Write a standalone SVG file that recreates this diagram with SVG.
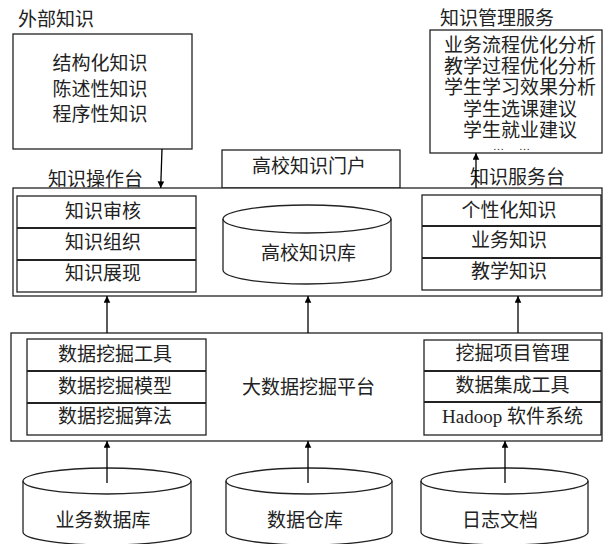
<svg xmlns="http://www.w3.org/2000/svg" width="603" height="544" viewBox="0 0 603 544">
<defs>
<style>
.b{fill:#fff;stroke:#222;stroke-width:1.3}
.n{fill:none;stroke:#222;stroke-width:1.3}
.s{fill:none;stroke:#222;stroke-width:2}
text{font-family:"Liberation Serif","Noto Sans CJK SC",serif;font-size:19px;fill:#222;dominant-baseline:central}
.m{text-anchor:middle}
.c{stroke:#000;stroke-width:1.3;fill:none;marker-end:url(#ah)}
</style>
<marker id="ah" viewBox="0 0 10 15" refX="10" refY="5" markerWidth="15" markerHeight="10" markerUnits="userSpaceOnUse" orient="auto">
<path d="M0,0 L10,5 L0,10 Z" fill="#000"/>
</marker>
</defs>
<rect width="603" height="544" fill="#fff"/>

<g id="external">
<text x="18" y="19.5">外部知识</text>
<rect class="b" x="13" y="34" width="179" height="115"/>
<text class="m" x="100" y="63.5">结构化知识</text>
<text class="m" x="100" y="89.5">陈述性知识</text>
<text class="m" x="100" y="114.5">程序性知识</text>
</g>

<g id="mgmt">
<text x="440" y="18.5">知识管理服务</text>
<rect class="b" x="430" y="30" width="172" height="123"/>
<text class="m" x="520" y="45.5">业务流程优化分析</text>
<text class="m" x="520" y="66">教学过程优化分析</text>
<text class="m" x="520" y="87.5">学生学习效果分析</text>
<text class="m" x="520" y="109.5">学生选课建议</text>
<text class="m" x="520" y="130">学生就业建议</text>
<text x="493" y="145.5" textLength="37" lengthAdjust="spacing" style="font-size:11px">……</text>
</g>

<g id="portal">
<rect class="b" x="222" y="150" width="178" height="38"/>
<text class="m" x="309" y="166">高校知识门户</text>
</g>

<g id="upper">
<rect class="b" x="13" y="188" width="589" height="108"/>
<text x="48" y="179.5">知识操作台</text>
<text x="470" y="177.5">知识服务台</text>
</g>

<g id="ops">
<rect class="b" x="17" y="196" width="179" height="96"/>
<line class="s" x1="17" y1="228" x2="196" y2="228"/>
<line class="s" x1="17" y1="260" x2="196" y2="260"/>
<text class="m" x="103" y="211.5">知识审核</text>
<text class="m" x="103" y="242.5">知识组织</text>
<text class="m" x="103" y="273.5">知识展现</text>
</g>

<g id="kb">
<path class="b" d="M223,219 A84,14 0 0 1 391,219 L391,270 A84,14 0 0 1 223,270 Z"/>
<path class="n" d="M223,219 A84,14 0 0 0 391,219"/>
<text class="m" x="308.5" y="253">高校知识库</text>
</g>

<g id="svc">
<rect class="b" x="422" y="195" width="179" height="95"/>
<line class="s" x1="422" y1="226" x2="601" y2="226"/>
<line class="s" x1="422" y1="258" x2="601" y2="258"/>
<text class="m" x="509" y="210">个性化知识</text>
<text class="m" x="509" y="240.5">业务知识</text>
<text class="m" x="509" y="271.5">教学知识</text>
</g>

<g id="platform">
<rect class="b" x="11" y="333" width="591" height="108"/>
<text class="m" x="308.5" y="387.5">大数据挖掘平台</text>
</g>

<g id="mining">
<rect class="b" x="27" y="339" width="179" height="96"/>
<line class="s" x1="27" y1="371" x2="206" y2="371"/>
<line class="s" x1="27" y1="403" x2="206" y2="403"/>
<text class="m" x="115" y="354.5">数据挖掘工具</text>
<text class="m" x="115" y="386">数据挖掘模型</text>
<text class="m" x="115" y="416.5">数据挖掘算法</text>
</g>

<g id="tools">
<rect class="b" x="424" y="340" width="177" height="95"/>
<line class="s" x1="424" y1="371" x2="601" y2="371"/>
<line class="s" x1="424" y1="402" x2="601" y2="402"/>
<text class="m" x="512.5" y="353.5">挖掘项目管理</text>
<text class="m" x="512.5" y="385">数据集成工具</text>
<text class="m" x="512.5" y="416">Hadoop 软件系统</text>
</g>

<g id="db1">
<path class="b" d="M23,481 A84,13 0 0 1 191,481 L191,532 A84,13 0 0 1 23,532 Z"/>
<path class="n" d="M23,481 A84,13 0 0 0 191,481"/>
<text class="m" x="103" y="520">业务数据库</text>
</g>
<g id="db2">
<path class="b" d="M226,481 A83,13 0 0 1 392,481 L392,532 A83,13 0 0 1 226,532 Z"/>
<path class="n" d="M226,481 A83,13 0 0 0 392,481"/>
<text class="m" x="305" y="520">数据仓库</text>
</g>
<g id="db3">
<path class="b" d="M421,481 A83.5,13 0 0 1 588,481 L588,532 A83.5,13 0 0 1 421,532 Z"/>
<path class="n" d="M421,481 A83.5,13 0 0 0 588,481"/>
<text class="m" x="500" y="520">日志文档</text>
</g>

<g id="connectors">
<line class="c" x1="162" y1="149" x2="160.7" y2="188"/>
<line class="c" x1="476" y1="188" x2="476" y2="153"/>
<line class="c" x1="107" y1="333" x2="107" y2="296"/>
<line class="c" x1="308" y1="333" x2="308" y2="296"/>
<line class="c" x1="518" y1="333" x2="518" y2="296"/>
<line class="c" x1="107" y1="483" x2="107" y2="441"/>
<line class="c" x1="308" y1="483" x2="308" y2="441"/>
<line class="c" x1="505" y1="483" x2="505" y2="441"/>
</g>
</svg>
